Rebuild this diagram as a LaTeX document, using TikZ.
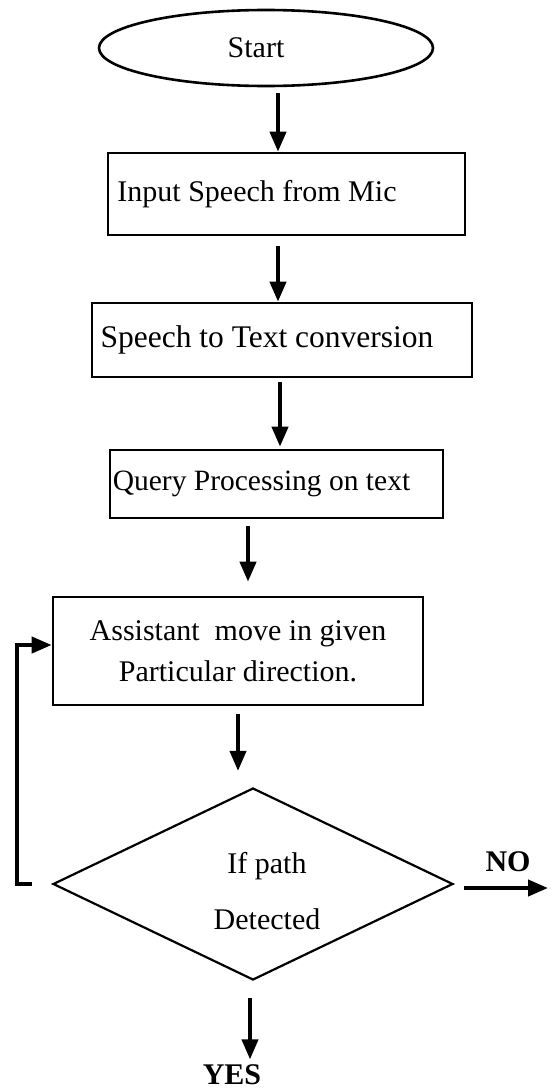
\documentclass[tikz,border=0pt]{standalone}
\usepackage{fontspec}
\setmainfont{Liberation Serif}
\usetikzlibrary{shapes.geometric,arrows.meta}
\tikzset{
	txt/.style={font=\fontsize{30}{36}\selectfont},
	stepbox/.style={draw,line width=2.6pt,rectangle,inner sep=0pt,txt},
	arr/.style={line width=4pt,-{Triangle[length=20pt,width=16pt]}}
}
\begin{document}
\begin{tikzpicture}[x=1pt,y=-1pt]
	\useasboundingbox (0,0) rectangle (550,1092);
	% nodes
	\node[draw,ellipse,line width=2.6pt,minimum width=334pt,minimum height=76pt,
		inner sep=0pt,txt] (start) at (266,48) {Start\hspace*{20pt}};
	\node[stepbox,minimum width=357pt,minimum height=82pt] (mic) at (286.5,194)
		{Input Speech from Mic\hspace*{59pt}};
	\node[stepbox,minimum width=380pt,minimum height=74pt,
		font=\fontsize{31.5}{36}\selectfont] (stt) at (282,340)
		{Speech to Text conversion\hspace*{30pt}};
	\node[stepbox,minimum width=333pt,minimum height=68pt,
		font=\fontsize{29.5}{34}\selectfont] (query) at (276.5,484)
		{Query Processing on text\hspace*{30pt}};
	\node[stepbox,minimum width=370pt,minimum height=108pt,align=center] (move) at (238,651)
		{Assistant\enspace move in given\\[5pt]Particular direction.};
	\node[draw,diamond,line width=2.2pt,inner sep=0pt,aspect=2.08,
		minimum width=400pt,minimum height=192pt,
		label={[txt,align=center,yshift=-7pt,xshift=14pt]center:If path\\[20pt]Detected}]
		(path) at (253,884) {};
	\node[txt,font=\fontsize{30}{36}\selectfont\bfseries] (yes) at (232,1075) {YES};
	\node[txt,font=\fontsize{30}{36}\selectfont\bfseries] (no) at (508,862) {NO};
	\coordinate (out) at (548,888);
	\coordinate (back) at (17,645);
	% arrows
	\draw[arr] ([xshift=12pt,yshift=-6pt]start.south) -- ([xshift=-8.5pt]mic.north);
	\draw[arr] ([xshift=-8.5pt,yshift=-10pt]mic.south) -- ([xshift=-4pt]stt.north);
	\draw[arr] ([xshift=-2pt,yshift=-4pt]stt.south) -- ([xshift=3.5pt,yshift=2pt]query.north);
	\draw[arr] ([xshift=-28.5pt,yshift=-7pt]query.south) -- ([xshift=10pt,yshift=14pt]move.north);
	\draw[arr] ([yshift=-8pt]move.south) -- ([xshift=-15pt,yshift=16pt]path.north);
	\draw[arr] ([xshift=-3pt,yshift=-17pt]path.south) -- ([xshift=18pt,yshift=2pt]yes.north);
	\draw[arr] ([xshift=10pt,yshift=-4pt]path.east) -- (out);
	\draw[line width=4pt,-{Triangle[length=20pt,width=16pt]}]
		([xshift=-20pt]path.west) -| (back) -- (move.west |- back);
\end{tikzpicture}
\end{document}
